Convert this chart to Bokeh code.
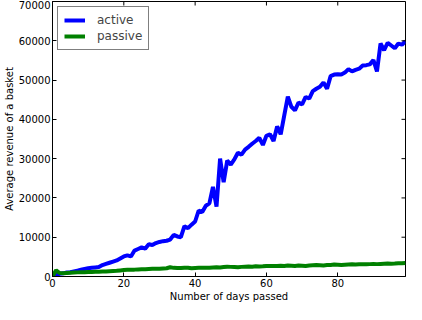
import math
from bokeh.plotting import figure
from bokeh.models import Range1d, FixedTicker, Legend, LegendItem
from bokeh.embed import file_html
from bokeh.resources import INLINE

days = list(range(100))
active = [300, 400, 700, 800, 1000, 1100, 1300, 1500, 1700, 1900,
          2100, 2200, 2300, 2400, 2900, 3200, 3500, 3800, 4100, 4600,
          5100, 5400, 5100, 6600, 7000, 7400, 7100, 8200, 8000, 8500,
          8800, 9000, 9100, 9400, 10600, 10200, 10000, 12800, 12300, 13200,
          14000, 16800, 16400, 18000, 18600, 22800, 17800, 30000, 24000, 29500,
          28500, 29800, 31500, 31000, 32300, 33000, 33800, 34500, 35300, 33500,
          35800, 36200, 34500, 38200, 36200, 41000, 45800, 43200, 42300, 44300,
          43800, 45700, 45300, 47200, 47800, 48300, 49400, 47800, 51000, 51400,
          51500, 51400, 51900, 52800, 52200, 52600, 52900, 53700, 53800, 54000,
          55100, 52200, 59300, 57600, 59500, 58800, 58100, 59300, 59000, 59900]
passive = [0, 1600, 900, 800, 900, 950, 1000, 1050, 1100, 1100,
           1150, 1150, 1200, 1200, 1250, 1300, 1350, 1400, 1450, 1550,
           1650, 1700, 1750, 1750, 1800, 1850, 1850, 1900, 1950, 1950,
           2000, 2050, 2100, 2350, 2200, 2150, 2150, 2200, 2200, 2100,
           2150, 2200, 2250, 2200, 2250, 2300, 2350, 2300, 2400, 2500,
           2450, 2400, 2350, 2450, 2500, 2550, 2500, 2600, 2550, 2600,
           2700, 2650, 2700, 2650, 2750, 2700, 2800, 2750, 2700, 2800,
           2750, 2700, 2800, 2850, 2900, 2850, 2800, 2900, 2950, 3050,
           3000, 2950, 3000, 3050, 3100, 3050, 3100, 3150, 3100, 3150,
           3200, 3150, 3200, 3250, 3300, 3250, 3300, 3400, 3350, 3450]
x_ticks = [0, 20, 40, 60, 80]
y_ticks = [0, 10000, 20000, 30000, 40000, 50000, 60000, 70000]
series_names = ["active", "passive"]
x_max = 99
y_max = 70000

FONT = "DejaVu Sans"

p = figure(width=406, height=304, output_backend="svg", toolbar_location=None,
           x_range=Range1d(0, x_max), y_range=Range1d(0, y_max),
           min_border_left=10, min_border_right=1, min_border_top=1, min_border_bottom=0)
p.background_fill_color = "white"
p.border_fill_color = "white"
p.grid.visible = False
p.outline_line_color = "black"
p.outline_line_width = 1

r1 = p.line(days, active, line_color="#0000ff", line_width=4)
r2 = p.line(days, passive, line_color="#008000", line_width=4)

# inward tick marks on the top and right edges (mirroring matplotlib classic style)
p.scatter(x_ticks, [y_max] * len(x_ticks), marker="dash", size=8, angle=math.pi / 2,
          line_color="black", line_width=1)
p.scatter([x_max] * len(y_ticks), y_ticks, marker="dash", size=8,
          line_color="black", line_width=1)

def style_axis(ax, ticks):
    ax.ticker = FixedTicker(ticks=ticks)
    ax.major_tick_in = 4
    ax.major_tick_out = 0
    ax.minor_tick_line_color = None
    ax.axis_line_color = "black"
    ax.major_tick_line_color = "black"
    ax.major_label_text_font = FONT
    ax.major_label_text_font_size = "10px"
    ax.major_label_text_color = "black"
    ax.major_label_standoff = 2
    ax.axis_label_text_font = FONT
    ax.axis_label_text_font_size = "10px"
    ax.axis_label_text_font_style = "normal"
    ax.axis_label_text_color = "black"
    ax.axis_label_standoff = 1

style_axis(p.xaxis[0], x_ticks)
style_axis(p.yaxis[0], y_ticks)
p.xaxis[0].axis_label = "Number of days passed"
p.yaxis[0].axis_label = "Average revenue of a basket"

legend = Legend(items=[LegendItem(label=series_names[0], renderers=[r1]),
                       LegendItem(label=series_names[1], renderers=[r2])],
                location="top_left")
legend.label_text_font = FONT
legend.label_text_font_size = "12px"
legend.label_standoff = 12
legend.glyph_width = 21
legend.glyph_height = 12
legend.label_height = 12
legend.spacing = 2
legend.padding = 6
legend.margin = 5
legend.border_line_color = "black"
legend.border_line_width = 1
legend.background_fill_alpha = 1
p.add_layout(legend)

open("out.html", "w").write(file_html(p, INLINE))
